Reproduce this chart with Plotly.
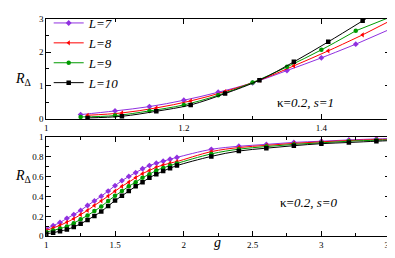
import plotly.graph_objects as go

# ---------------- data ----------------
labels = ["L=7", "L=8", "L=9", "L=10"]
colors = ["#9030e0", "#ff0000", "#009a00", "#000000"]
symbols = ["diamond", "triangle-left", "circle", "square"]

# top panel (kappa=0.2, s=1)
g_top_a = [1.05, 1.10, 1.15, 1.20, 1.25, 1.30, 1.35, 1.40, 1.45]  # L=7, L=9
g_top_b = [1.06, 1.11, 1.16, 1.21, 1.26, 1.31, 1.36, 1.41, 1.46]  # L=8, L=10
top_L7 = [0.13, 0.24, 0.37, 0.56, 0.80, 1.08, 1.45, 1.83, 2.24]
top_L8 = [0.11, 0.18, 0.33, 0.54, 0.82, 1.16, 1.59, 2.04, 2.52]
top_L9 = [0.06, 0.10, 0.24, 0.42, 0.71, 1.09, 1.56, 2.07, 2.64]
top_L10 = [0.03, 0.08, 0.23, 0.42, 0.76, 1.16, 1.71, 2.31, 2.94]
top_g_end = 1.5
top_end = [2.69, 2.94, 3.05, 3.44]

# bottom panel (kappa=0.2, s=0)
g_bot = [1.00, 1.05, 1.10, 1.15, 1.20, 1.25, 1.30, 1.35, 1.40, 1.45,
         1.50, 1.55, 1.60, 1.65, 1.70, 1.75, 1.80, 1.85, 1.90, 1.95,
         2.2, 2.4, 2.6, 2.8, 3.0, 3.2, 3.4]
bot_L7 = [0.074, 0.106, 0.138, 0.180, 0.218, 0.260, 0.310, 0.356, 0.404, 0.455,
          0.510, 0.560, 0.603, 0.641, 0.680, 0.712, 0.737, 0.757, 0.776, 0.795,
          0.876, 0.907, 0.926, 0.946, 0.958, 0.971, 0.981]
bot_L8 = [0.058, 0.083, 0.109, 0.141, 0.176, 0.218, 0.260, 0.310, 0.356, 0.405,
          0.454, 0.503, 0.545, 0.590, 0.631, 0.663, 0.695, 0.718, 0.737, 0.753,
          0.853, 0.894, 0.916, 0.936, 0.952, 0.965, 0.974]
bot_L9 = [0.042, 0.058, 0.077, 0.099, 0.131, 0.170, 0.210, 0.253, 0.300, 0.355,
          0.407, 0.455, 0.503, 0.545, 0.590, 0.625, 0.663, 0.689, 0.712, 0.734,
          0.830, 0.878, 0.904, 0.926, 0.942, 0.958, 0.968]
bot_L10 = [0.026, 0.035, 0.051, 0.067, 0.093, 0.125, 0.163, 0.205, 0.250, 0.305,
           0.359, 0.407, 0.455, 0.503, 0.545, 0.590, 0.625, 0.657, 0.686, 0.712,
           0.805, 0.859, 0.888, 0.913, 0.933, 0.945, 0.958]
bot_g_end = 3.5
bot_end = [0.984, 0.978, 0.972, 0.964]

top_x = [g_top_a, g_top_b, g_top_a, g_top_b]
top_y = [top_L7, top_L8, top_L9, top_L10]
bot_y = [bot_L7, bot_L8, bot_L9, bot_L10]

# ---------------- figure ----------------
fig = go.Figure()
serif = "Liberation Serif"

for i in range(4):
    mk = dict(symbol=symbols[i], size=4.5, color=colors[i])
    # top
    fig.add_trace(go.Scatter(x=top_x[i], y=top_y[i], mode="lines+markers",
                             line=dict(color=colors[i], width=1, shape="spline"),
                             marker=mk, name="<i>" + labels[i] + "</i>", xaxis="x", yaxis="y",
                             legendgroup=labels[i]))
    fig.add_trace(go.Scatter(x=[top_x[i][-1], top_g_end], y=[top_y[i][-1], top_end[i]],
                             mode="lines", line=dict(color=colors[i], width=1),
                             showlegend=False, xaxis="x", yaxis="y"))
    # bottom
    fig.add_trace(go.Scatter(x=g_bot + [bot_g_end], y=bot_y[i] + [bot_end[i]], mode="lines",
                             line=dict(color=colors[i], width=1, shape="spline"),
                             showlegend=False, xaxis="x2", yaxis="y2"))
    fig.add_trace(go.Scatter(x=g_bot, y=bot_y[i], mode="markers", marker=mk,
                             showlegend=False, xaxis="x2", yaxis="y2"))

axis_common = dict(showline=True, linecolor="black", linewidth=1, mirror="allticks",
                   ticks="inside", ticklen=5, tickcolor="black", showgrid=False,
                   zeroline=False, tickfont=dict(family=serif, size=9, color="black"))

fig.update_layout(
    width=395, height=258,
    margin=dict(l=0, r=0, t=0, b=0),
    paper_bgcolor="white", plot_bgcolor="white",
    showlegend=True,
    legend=dict(x=0.10, y=1.03, xanchor="left", yanchor="top",
                bgcolor="rgba(0,0,0,0)", borderwidth=0,
                font=dict(family=serif, size=13, color="black"),
                tracegroupgap=0, itemwidth=30),
    xaxis=dict(domain=[37/395, 388/395], range=[1, 1.5], dtick=0.2, tick0=1,
               minor=dict(dtick=0.1, ticklen=3, ticks="inside", tickcolor="black"),
               anchor="y", **axis_common),
    yaxis=dict(domain=[1-109/258, 1-4/258], range=[0, 3], dtick=1,
               minor=dict(dtick=0.5, ticklen=3, ticks="inside", tickcolor="black"),
               anchor="x", **axis_common),
    xaxis2=dict(domain=[37/395, 388/395], range=[1, 3.5], dtick=0.5, tick0=1,
                minor=dict(dtick=0.25, ticklen=3, ticks="inside", tickcolor="black"),
                anchor="y2", **axis_common),
    yaxis2=dict(domain=[1-232/258, 1-128/258], range=[0, 1], dtick=0.2,
                minor=dict(dtick=0.1, ticklen=3, ticks="inside", tickcolor="black"),
                anchor="x2", **axis_common),
)

ann_font = dict(family=serif, size=14, color="black")
fig.add_annotation(text="<i>R</i><sub>Δ</sub>", x=3/395, y=1-57/258, xref="paper", yref="paper",
                   xanchor="left", showarrow=False, font=ann_font)
fig.add_annotation(text="<i>R</i><sub>Δ</sub>", x=3/395, y=1-180/258, xref="paper", yref="paper",
                   xanchor="left", showarrow=False, font=ann_font)
fig.add_annotation(text="<i>g</i>", x=212/395, y=1-249/258, xref="paper", yref="paper",
                   showarrow=False, font=ann_font)
fig.add_annotation(text="κ=<i>0.2, s=1</i>", x=333/395, y=1-82/258, xref="paper", yref="paper",
                   showarrow=False, font=dict(family=serif, size=13, color="black"))
fig.add_annotation(text="κ=<i>0.2, s=0</i>", x=336/395, y=1-207/258, xref="paper", yref="paper",
                   showarrow=False, font=dict(family=serif, size=13, color="black"))

fig.write_html("out.html")
